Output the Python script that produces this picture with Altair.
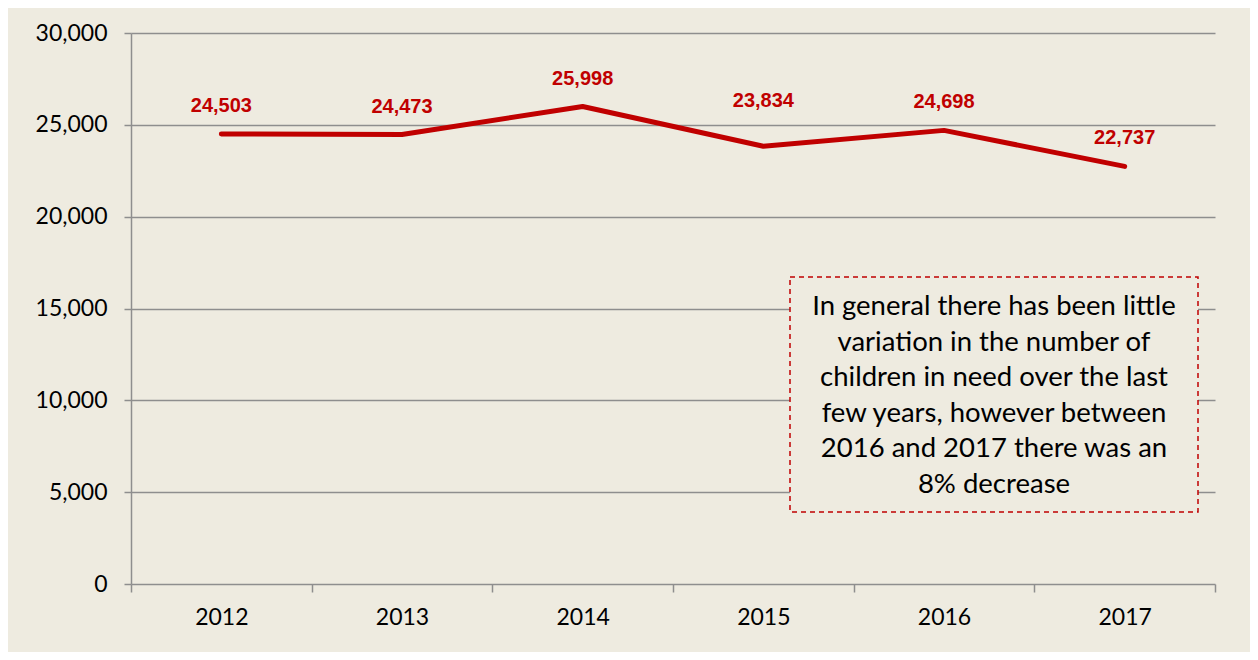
import altair as alt
import pandas as pd

years = ["2012", "2013", "2014", "2015", "2016", "2017"]
children = [24503, 24473, 25998, 23834, 24698, 22737]
y_ticks = [0, 5000, 10000, 15000, 20000, 25000, 30000]
raised_label_year = "2015"
note_lines = [
    "In general there has been little",
    "variation in the number of",
    "children in need over the last",
    "few years, however between",
    "2016 and 2017 there was an",
    "8% decrease",
]

BG = "#EEEBE0"
RED = "#C00000"
GRID = "#8E8E8E"

df = pd.DataFrame({"year": years, "value": children})

x_enc = alt.X(
    "year:O",
    bandPosition=0.5,
    scale=alt.Scale(type="band", paddingInner=0, paddingOuter=0),
    axis=alt.Axis(
        title=None,
        labelAngle=0,
        tickBand="extent",
        grid=False,
        domain=False,
        ticks=True,
        tickSize=8,
        tickColor=GRID,
        tickWidth=1.5,
        labelFont="Lato",
        labelFontSize=23,
        labelColor="#000000",
        labelPadding=14,
    ),
)
y_enc = alt.Y(
    "value:Q",
    scale=alt.Scale(domain=[0, 30000], nice=False),
    axis=alt.Axis(
        title=None,
        values=y_ticks,
        format=",.0f",
        grid=True,
        gridColor=GRID,
        gridWidth=1.5,
        domain=True,
        domainColor=GRID,
        domainWidth=1.5,
        tickSize=7,
        tickColor=GRID,
        tickWidth=1.5,
        labelFont="Lato",
        labelFontSize=23,
        labelColor="#000000",
        labelPadding=17,
    ),
)

base = alt.Chart(df)

line = base.mark_line(color=RED, strokeWidth=5, strokeCap="round", strokeJoin="round").encode(
    x=x_enc, y=y_enc
)

label_style = dict(
    font="Liberation Sans",
    fontWeight="bold",
    fontSize=20,
    color=RED,
    baseline="alphabetic",
    align="center",
)
label_enc = dict(
    x=alt.X("year:O", bandPosition=0.5),
    y="value:Q",
    text=alt.Text("value:Q", format=",.0f"),
)

labels = base.mark_text(dy=-22, **label_style).encode(**label_enc).transform_filter(
    alt.datum.year != raised_label_year
)
labels_raised = base.mark_text(dy=-39, **label_style).encode(**label_enc).transform_filter(
    alt.datum.year == raised_label_year
)

dummy = alt.Chart(pd.DataFrame({"d": [0]}))

box = dummy.mark_rect(
    fill=BG, stroke=RED, strokeWidth=1.5, strokeDash=[5, 4]
).encode(
    x=alt.value(659), x2=alt.value(1067), y=alt.value(244), y2=alt.value(479)
)

note = dummy.mark_text(
    text=note_lines,
    font="Lato",
    fontSize=27.5,
    lineHeight=35.6,
    align="center",
    baseline="alphabetic",
    color="#000000",
).encode(x=alt.value(863), y=alt.value(282))

chart = (
    alt.layer(line, labels, labels_raised, box, note)
    .properties(
        width=1084,
        height=551,
        autosize=alt.AutoSizeParams(type="none"),
        padding={"left": 123, "top": 25, "right": 35, "bottom": 68},
        background=BG,
    )
    .configure_view(stroke=None)
)

chart.save("out.html", embed_options={"renderer": "svg", "actions": False})
